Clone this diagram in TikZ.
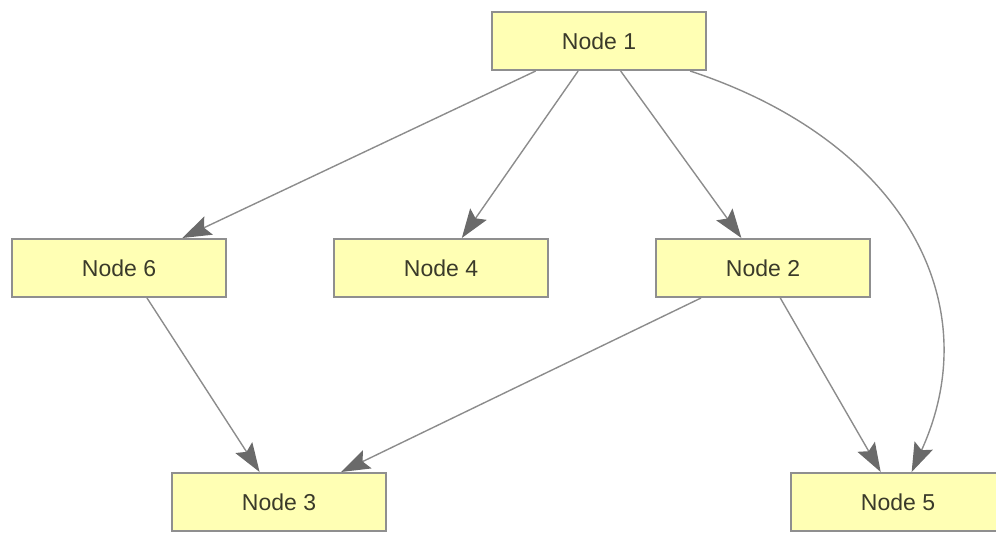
\documentclass[tikz,border=0pt]{standalone}
\usepackage{fontspec}
\setmainfont{Liberation Sans}
\usetikzlibrary{arrows.meta}
\definecolor{boxfill}{HTML}{FFFFB4}
\definecolor{boxdraw}{HTML}{8F8F8F}
\definecolor{edgecol}{HTML}{8C8C8C}
\definecolor{tipcol}{HTML}{6A6A6A}
\definecolor{txtcol}{HTML}{3A3A2A}
\tikzset{
  box/.style={draw=boxdraw, fill=boxfill, line width=2pt, minimum width=214pt, minimum height=58pt, inner sep=0pt, text=txtcol, font=\fontsize{23}{27}\selectfont},
  edge/.style={draw=edgecol, line width=1.4pt, -{Stealth[length=29pt,width=20pt,inset=5pt,fill=tipcol,color=tipcol]}}
}
\begin{document}
\begin{tikzpicture}[x=1pt,y=-1pt]
\useasboundingbox (0,0) rectangle (996,535);
\node[box] (n1) at (599,41) {Node 1};
\node[box] (n6) at (119,268) {Node 6};
\node[box] (n4) at (441,268) {Node 4};
\node[box] (n2) at (763,268) {Node 2};
\node[box] (n3) at (279,502) {Node 3};
\node[box] (n5) at (898,502) {Node 5};
\draw[edge] (n1) -- (n6);
\draw[edge] (n1) -- (n4);
\draw[edge] (n1) -- (n2);
\draw[edge] (n1) .. controls (900,140) and (990,300) .. (n5);
\draw[edge] (n6.south) ++(28,0) coordinate (a6) -- (n3);
\draw[edge] (n2) -- (n3);
\draw[edge] (n2) -- (n5);
\end{tikzpicture}
\end{document}
